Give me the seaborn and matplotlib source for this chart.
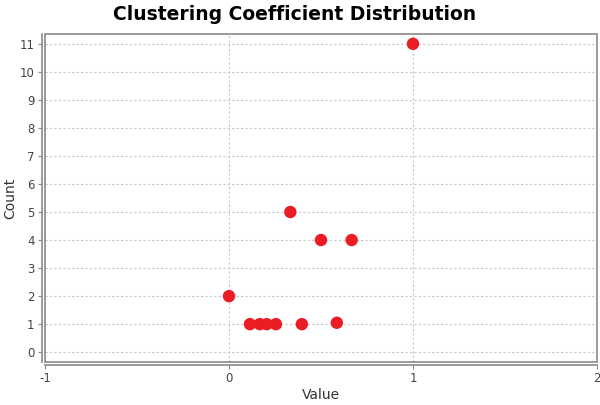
import matplotlib
matplotlib.use("Agg")
import matplotlib.pyplot as plt
import seaborn as sns
import pandas as pd
from matplotlib.patches import Rectangle

# values
values = [1.0, 1/3, 0.5, 2/3, 0.0, 0.114, 0.167, 0.205, 0.255, 0.396, 0.586]
counts = [11, 5, 4, 4, 2, 1, 1, 1, 1, 1, 1.05]

df = pd.DataFrame({"Value": values, "Count": counts})

sns.set_style("white")
plt.rcParams['font.family'] = ['DejaVu Sans']
plt.rcParams['axes.unicode_minus'] = False

fig = plt.figure(figsize=(6, 4.05), dpi=100)
ax = fig.add_axes([45/600, 1 - 362/405, 552/600, 328/405])

sns.scatterplot(data=df, x="Value", y="Count", ax=ax, color="#ec1c24",
                s=80, edgecolor="none", zorder=3)

ax.set_xlim(-1, 2)
ax.set_ylim(-0.35, 11.35)
ax.set_xticks([-1, 0, 1, 2])
ax.set_yticks(range(0, 12))

ax.grid(True, color="#c8c8c8", linestyle=(0, (2, 2)), linewidth=0.8)
ax.set_axisbelow(True)

# plot border
for s in ["top", "right"]:
    ax.spines[s].set_visible(False)
ax.add_patch(Rectangle((0, 0), 1, 1, transform=ax.transAxes, fill=False,
                       edgecolor="#8a8a8a", linewidth=1.2, zorder=5, clip_on=False))
# detached axes
for s in ["left", "bottom"]:
    ax.spines[s].set_position(("outward", 2.5))
    ax.spines[s].set_color("#8a8a8a")
    ax.spines[s].set_linewidth(1.2)

ax.tick_params(axis="both", which="both", direction="out", length=3, width=0.8,
               color="#8a8a8a", labelcolor="#444444", labelsize=8.5, pad=2)
ax.tick_params(axis="both", bottom=True, left=True)

ax.set_xlabel("Value", fontsize=10, color="#333333", labelpad=2)
ax.set_ylabel("Count", fontsize=10, color="#333333")
ax.yaxis.set_label_coords(-0.051, 0.5)

fig.text(295/600, 1 - 14/405, "Clustering Coefficient Distribution", fontsize=13.5,
         fontweight="bold", color="black", ha="center", va="center")

fig.savefig("out.png", dpi=100)
